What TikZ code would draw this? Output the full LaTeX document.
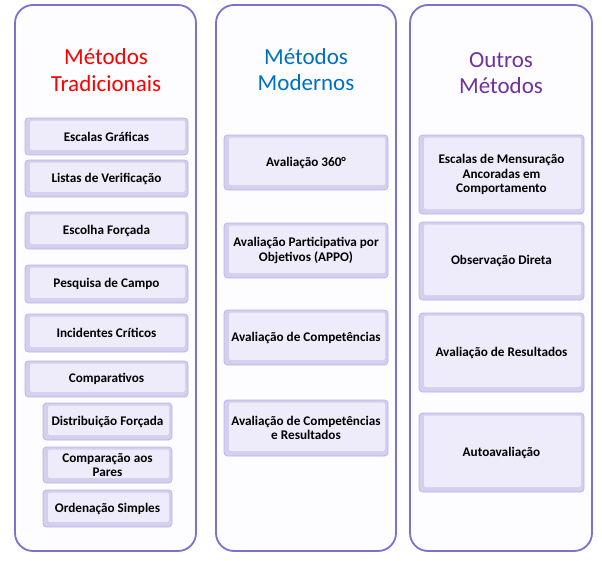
\documentclass[tikz,border=0pt]{standalone}
\usepackage{fontspec}
\setmainfont{Carlito}
\definecolor{panelc}{RGB}{125,112,208}
\definecolor{panelfill}{RGB}{253,253,255}
\definecolor{boxedge}{RGB}{186,180,228}
\definecolor{bevel}{RGB}{212,207,238}
\definecolor{boxface}{RGB}{238,235,251}
\definecolor{tred}{RGB}{255,0,0}
\definecolor{tblue}{RGB}{0,112,192}
\definecolor{tpurple}{RGB}{112,48,160}
\tikzset{
  panel/.style={draw=panelc, line width=1.8pt, fill=panelfill, rounded corners=18pt},
  ttl/.style={anchor=base, font=\fontsize{23}{27}\selectfont, inner sep=0pt},
  boxn/.style={draw=boxedge, line width=0.7pt, fill=bevel, rounded corners=3.5pt,
    align=center, inner sep=0pt, font=\bfseries\fontsize{13.2}{14.4}\selectfont,
    path picture={\fill[boxface, rounded corners=2pt]
      ([xshift=5pt,yshift=5pt]path picture bounding box.south west) rectangle
      ([xshift=-3pt,yshift=-2.5pt]path picture bounding box.north east);}},
}
\newcommand\mybox[6]{%
  \node[boxn, minimum width={(#4-#2)*1pt}, minimum height={(#5-#3)*1pt}]
    (#1) at ({(#2+#4)/2},{(#3+#5)/2}) {#6};}
\begin{document}
\begin{tikzpicture}[x=1pt,y=-1pt]
\useasboundingbox (0,0) rectangle (602,560);
\fill[white] (0,0) rectangle (602,560);
% panels
\draw[panel] (15,5) rectangle (196,551);
\draw[panel] (216,5) rectangle (396,551);
\draw[panel] (410,5) rectangle (592,551);
% titles
\node[ttl, text=tred] (t1a) at (106,64) {Métodos};
\node[ttl, text=tred] (t1b) at (106,91) {Tradicionais};
\node[ttl, text=tblue] (t2a) at (306,64) {Métodos};
\node[ttl, text=tblue] (t2b) at (306,90) {Modernos};
\node[ttl, text=tpurple] (t3a) at (501,67) {Outros};
\node[ttl, text=tpurple] (t3b) at (501,93) {Métodos};
% panel 1 boxes
\mybox{esc}{25}{118}{188}{155}{Escalas Gráficas}
\mybox{lis}{25}{160}{188}{197}{Listas de Verificação}
\mybox{esf}{25}{212}{188}{249}{Escolha Forçada}
\mybox{pes}{25}{265}{188}{303}{Pesquisa de Campo}
\mybox{inc}{25}{314}{188}{352}{Incidentes Críticos}
\mybox{cmp}{25}{361}{188}{397}{Comparativos}
\mybox{dis}{43}{403}{172}{440}{Distribuição Forçada}
\mybox{par}{43}{447}{172}{483}{Comparação aos\\Pares}
\mybox{ord}{43}{490}{172}{527}{Ordenação Simples}
% panel 2 boxes
\mybox{a360}{224}{135}{388}{190}{Avaliação 360°}
\mybox{appo}{224}{223}{388}{278}{Avaliação Participativa por\\Objetivos (APPO)}
\mybox{acmp}{224}{310}{388}{365}{Avaliação de Competências}
\mybox{acr}{224}{400}{388}{456}{Avaliação de Competências\\e Resultados}
% panel 3 boxes
\mybox{emac}{419}{135}{584}{214}{Escalas de Mensuração\\Ancoradas em\\Comportamento}
\mybox{obs}{419}{222}{584}{300}{Observação Direta}
\mybox{res}{419}{313}{584}{392}{Avaliação de Resultados}
\mybox{auto}{419}{413}{584}{492}{Autoavaliação}
\end{tikzpicture}
\end{document}
